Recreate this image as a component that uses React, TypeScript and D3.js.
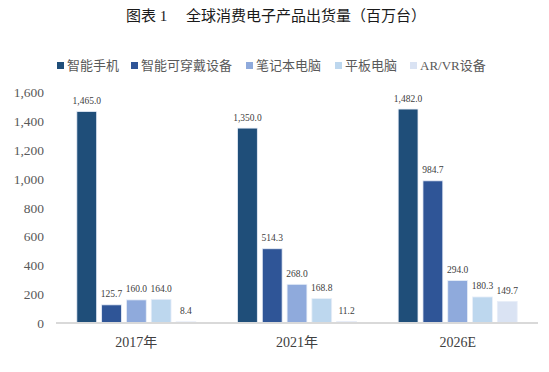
import { useEffect, useRef } from "react";
import * as d3 from "d3";

const years = ["2017年", "2021年", "2026E"];
const seriesNames = ["智能手机", "智能可穿戴设备", "笔记本电脑", "平板电脑", "AR/VR设备"];
const smartphone = [1465.0, 1350.0, 1482.0];
const wearable = [125.7, 514.3, 984.7];
const notebook = [160.0, 268.0, 294.0];
const tablet = [164.0, 168.8, 180.3];
const arvr = [8.4, 11.2, 149.7];
const colors = ["#1f4e79", "#2f5597", "#8faadc", "#bdd7ee", "#dae3f3"];
const yTicks = [0, 200, 400, 600, 800, 1000, 1200, 1400, 1600];

const W = 549;
const H = 372;
const serif = "'Liberation Serif', 'Times New Roman', 'Noto Sans CJK SC', serif";

export default function App() {
  const ref = useRef<SVGSVGElement | null>(null);

  useEffect(() => {
    const svg = d3.select(ref.current);
    svg.selectAll("*").remove();

    const allSeries = [smartphone, wearable, notebook, tablet, arvr];
    const left = 56, right = 538, top = 92, bottom = 323;

    const x = d3.scaleBand<string>().domain(years).range([left, right]).padding(0);
    const inner = d3.scaleBand<string>().domain(seriesNames).range([-59.5, 59.5]).paddingInner(0.2).paddingOuter(0);
    const y = d3.scaleLinear().domain([0, 1600]).range([bottom, top]);

    // title
    svg.append("text")
      .attr("x", 276).attr("y", 21)
      .attr("text-anchor", "middle")
      .attr("font-family", serif)
      .attr("font-size", 15)
      .attr("font-weight", "normal")
      .attr("fill", "#1a1a1a")
      .attr("xml:space", "preserve")
      .text("图表 1     全球消费电子产品出货量（百万台）");

    // legend
    const legendX = [57, 131, 246, 335, 410];
    const lg = svg.append("g");
    seriesNames.forEach((name, i) => {
      lg.append("rect")
        .attr("x", legendX[i]).attr("y", 62)
        .attr("width", 7).attr("height", 7)
        .attr("fill", colors[i]);
      lg.append("text")
        .attr("x", legendX[i] + 10).attr("y", 70)
        .attr("font-family", serif)
        .attr("font-size", 13)
        .attr("fill", "#595959")
        .text(name);
    });

    // y axis labels
    svg.append("g").selectAll("text")
      .data(yTicks)
      .join("text")
      .attr("x", 44)
      .attr("y", d => y(d) + 5)
      .attr("text-anchor", "end")
      .attr("font-family", serif)
      .attr("font-size", 13.5)
      .attr("fill", "#595959")
      .text(d => d3.format(",")(d));

    // bars
    allSeries.forEach((vals, si) => {
      const g = svg.append("g");
      g.selectAll("rect")
        .data(vals)
        .join("rect")
        .attr("x", (_, i) => x(years[i])! + x.bandwidth() / 2 + inner(seriesNames[si])!)
        .attr("y", d => y(d))
        .attr("width", inner.bandwidth())
        .attr("height", d => bottom - y(d))
        .attr("fill", colors[si])
        .attr("stroke", "#e8eef8")
        .attr("stroke-width", 0.8);
      g.selectAll("text")
        .data(vals)
        .join("text")
        .attr("x", (_, i) => x(years[i])! + x.bandwidth() / 2 + inner(seriesNames[si])! + inner.bandwidth() / 2)
        .attr("y", d => y(d) - 7.5)
        .attr("text-anchor", "middle")
        .attr("font-family", serif)
        .attr("font-size", 9.5)
        .attr("fill", "#404040")
        .text(d => d3.format(",.1f")(d));
    });

    // baseline
    svg.append("line")
      .attr("x1", left).attr("x2", right)
      .attr("y1", bottom).attr("y2", bottom)
      .attr("stroke", "#d9d9d9")
      .attr("stroke-width", 2);

    // x labels
    svg.append("g").selectAll("text")
      .data(years)
      .join("text")
      .attr("x", d => x(d)! + x.bandwidth() / 2)
      .attr("y", 347)
      .attr("text-anchor", "middle")
      .attr("font-family", serif)
      .attr("font-size", 14)
      .attr("fill", "#404040")
      .text(d => d);
  }, []);

  return (
    <svg
      ref={ref}
      width={W}
      height={H}
      style={{ position: "absolute", left: 0, top: 0, background: "#ffffff" }}
    />
  );
}
